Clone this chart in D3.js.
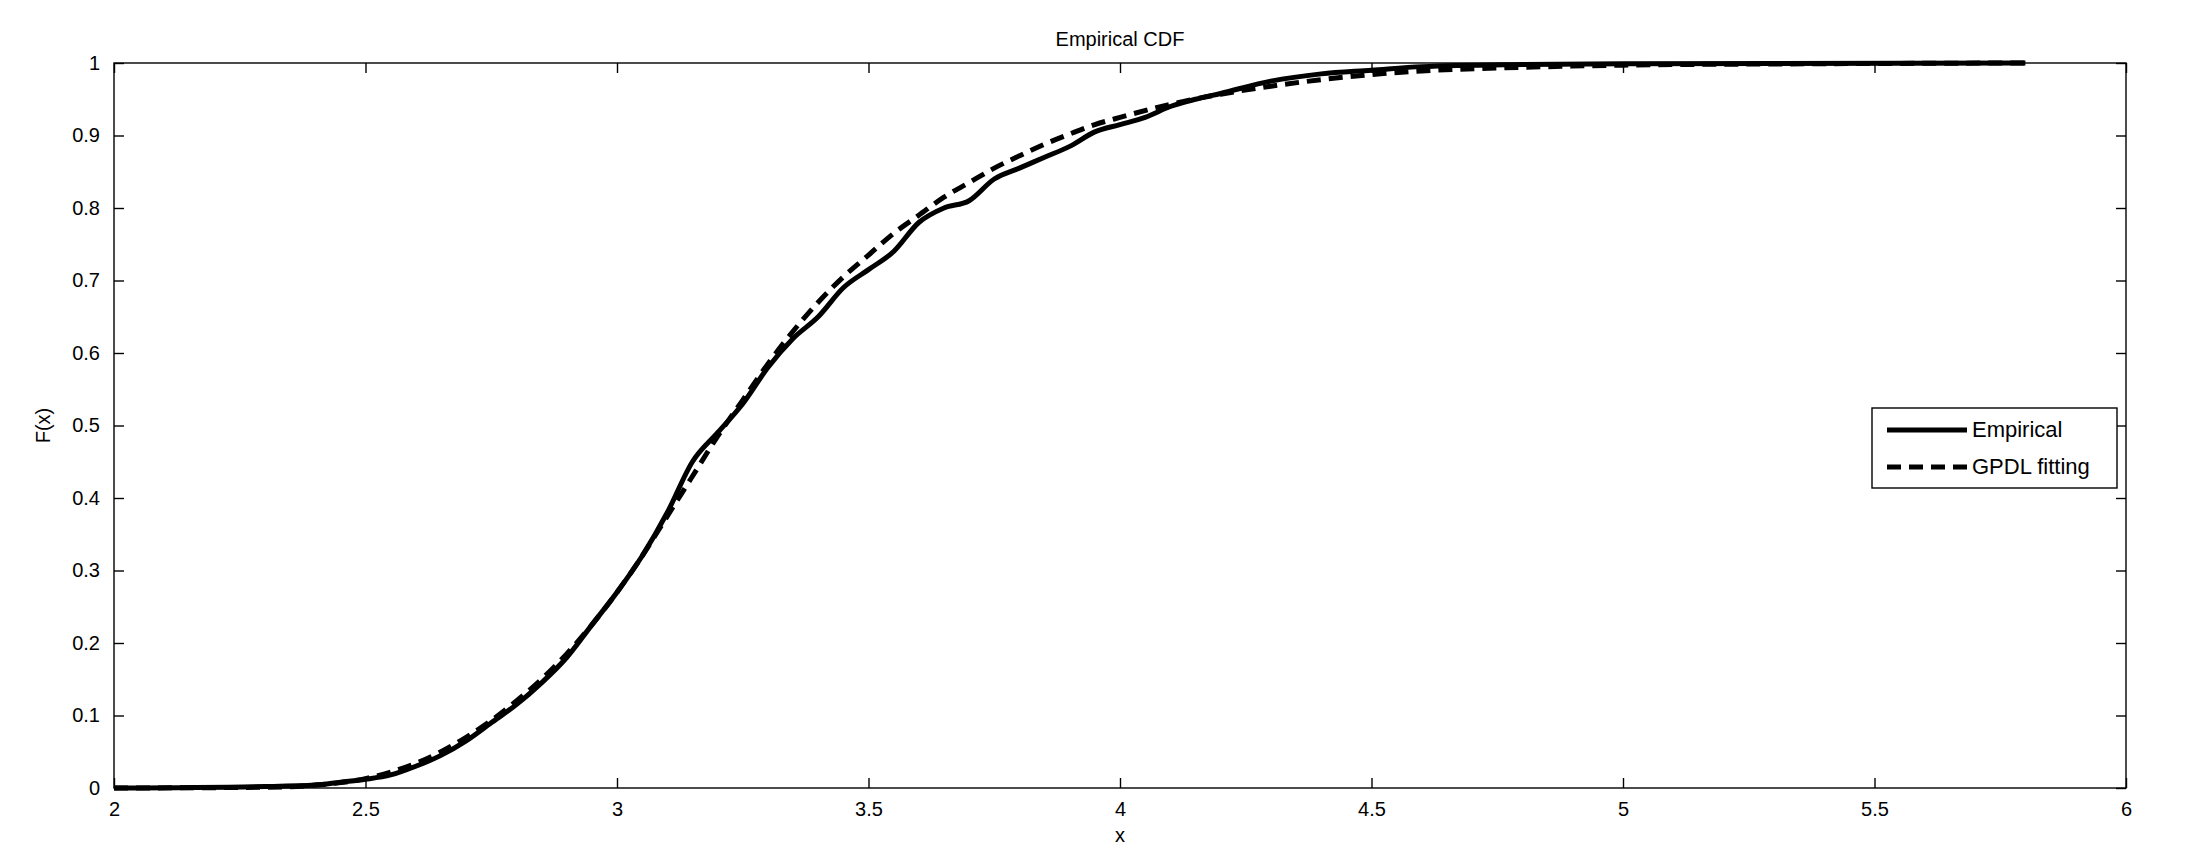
<!DOCTYPE html><html><head><meta charset="utf-8">
<script src="https://cdn.jsdelivr.net/npm/d3@7"></script>
<style>body{margin:0;background:#fff}text{font-family:"Liberation Sans",Arial,sans-serif}</style></head><body>
<svg id="c" width="2196" height="860"></svg>
<script>
const xTicks=[2,2.5,3,3.5,4,4.5,5,5.5,6];
const yTicks=[0,0.1,0.2,0.3,0.4,0.5,0.6,0.7,0.8,0.9,1];
const empX=[2.0,2.3,2.4,2.45,2.5,2.55,2.6,2.65,2.7,2.75,2.8,2.85,2.9,2.95,3.0,3.05,3.1,3.15,3.2,3.25,3.3,3.35,3.4,3.45,3.5,3.55,3.6,3.65,3.7,3.75,3.8,3.85,3.9,3.95,4.0,4.05,4.1,4.15,4.2,4.3,4.4,4.5,4.6,4.8,5.0,5.8];
const empY=[0,0.002,0.004,0.008,0.012,0.018,0.03,0.045,0.065,0.09,0.115,0.145,0.18,0.225,0.27,0.32,0.38,0.45,0.49,0.53,0.58,0.62,0.65,0.69,0.715,0.74,0.78,0.80,0.81,0.84,0.855,0.87,0.885,0.905,0.915,0.925,0.94,0.95,0.958,0.975,0.985,0.99,0.995,0.998,0.999,1];
const fitX=[2.0,2.3,2.4,2.5,2.55,2.6,2.65,2.7,2.75,2.8,2.85,2.9,2.95,3.0,3.05,3.1,3.15,3.2,3.25,3.3,3.35,3.4,3.45,3.5,3.55,3.6,3.65,3.7,3.75,3.8,3.85,3.9,3.95,4.0,4.1,4.2,4.3,4.4,4.5,4.6,4.8,5.0,5.4,5.8];
const fitY=[0,0.001,0.004,0.013,0.022,0.034,0.05,0.07,0.093,0.12,0.15,0.185,0.225,0.27,0.32,0.375,0.43,0.485,0.535,0.585,0.63,0.67,0.705,0.735,0.765,0.79,0.815,0.835,0.855,0.872,0.888,0.902,0.915,0.925,0.943,0.957,0.968,0.977,0.984,0.989,0.994,0.997,0.999,1];
const svg=d3.select("#c");
const L=114,R=2126,T=63,B=788;
const x=d3.scaleLinear().domain([2,6]).range([L,R]);
const y=d3.scaleLinear().domain([0,1]).range([B,T]);
svg.append("rect").attr("x",L).attr("y",T).attr("width",R-L).attr("height",B-T).attr("fill","none").attr("stroke","#000").attr("stroke-width",1.4);
const fmt=d=>String(d);
const gx=svg.append("g").attr("transform",`translate(0,${B})`).call(d3.axisBottom(x).tickValues(xTicks).tickFormat(fmt).tickSize(-10).tickPadding(14));
const gx2=svg.append("g").attr("transform",`translate(0,${T})`).call(d3.axisTop(x).tickValues(xTicks).tickFormat("").tickSize(-10));
const gy=svg.append("g").attr("transform",`translate(${L},0)`).call(d3.axisLeft(y).tickValues(yTicks).tickFormat(fmt).tickSize(-10).tickPadding(14));
const gy2=svg.append("g").attr("transform",`translate(${R},0)`).call(d3.axisRight(y).tickValues(yTicks).tickFormat("").tickSize(-10));
[gx,gx2,gy,gy2].forEach(g=>{g.select(".domain").remove();g.selectAll("line").attr("stroke","#000").attr("stroke-width",1.4);g.selectAll("text").attr("font-size",20).attr("fill","#000");});
const line=d3.line().x(d=>x(d[0])).y(d=>y(d[1])).curve(d3.curveMonotoneX);
svg.append("path").datum(fitX.map((v,i)=>[v,fitY[i]])).attr("d",line).attr("fill","none").attr("stroke","#000").attr("stroke-width",5).attr("stroke-dasharray","14,8");
svg.append("path").datum(empX.map((v,i)=>[v,empY[i]])).attr("d",line).attr("fill","none").attr("stroke","#000").attr("stroke-width",5);
svg.append("text").attr("x",(L+R)/2).attr("y",T-17).attr("text-anchor","middle").attr("font-size",20).text("Empirical CDF");
svg.append("text").attr("x",(L+R)/2).attr("y",B+54).attr("text-anchor","middle").attr("font-size",20).text("x");
svg.append("text").attr("transform",`translate(50,${(T+B)/2}) rotate(-90)`).attr("text-anchor","middle").attr("font-size",20).text("F(x)");
const lg=svg.append("g").attr("transform","translate(1872,408)");
lg.append("rect").attr("width",245).attr("height",80).attr("fill","#fff").attr("stroke","#000").attr("stroke-width",1.4);
lg.append("line").attr("x1",15).attr("x2",95).attr("y1",22).attr("y2",22).attr("stroke","#000").attr("stroke-width",5);
lg.append("line").attr("x1",15).attr("x2",95).attr("y1",59).attr("y2",59).attr("stroke","#000").attr("stroke-width",5).attr("stroke-dasharray","14,8");
lg.append("text").attr("x",100).attr("y",29).attr("font-size",22).text("Empirical");
lg.append("text").attr("x",100).attr("y",66).attr("font-size",22).text("GPDL fitting");
</script></body></html>
